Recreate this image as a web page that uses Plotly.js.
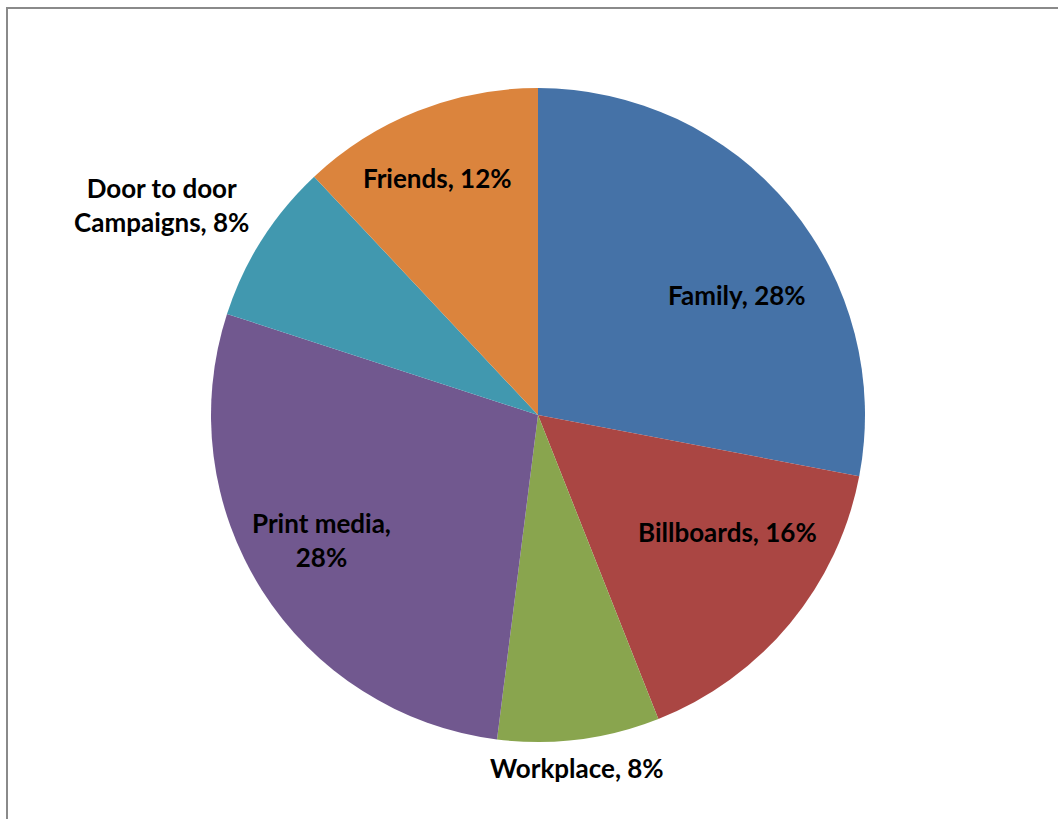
<!DOCTYPE html>
<html>
<head>
<meta charset="utf-8">
<script src="https://cdn.plot.ly/plotly-3.0.1.min.js"></script>
<style>
  html, body { margin: 0; padding: 0; background: #fff; }
  #frame { position: absolute; left: 6px; top: 7px; width: 1200px; height: 1000px;
           border-top: 2px solid #8a8a8a; border-left: 2px solid #8a8a8a; }
  #chart { position: absolute; left: 0; top: 0; width: 1058px; height: 819px; }
</style>
</head>
<body>
<div id="frame"></div>
<div id="chart"></div>
<script>
const labels = ['Family', 'Billboards', 'Workplace', 'Print media', 'Door to door Campaigns', 'Friends'];
const values = [28, 16, 8, 28, 8, 12];
const colors = ['#4572A7', '#AA4643', '#89A54E', '#71588F', '#4198AF', '#DB843D'];
const labelTexts = ['Family, 28%', 'Billboards, 16%', 'Workplace, 8%', 'Print media,<br>28%',
                    'Door to door<br>Campaigns, 8%', 'Friends, 12%'];
// label placement styling: distance from centre (fraction of radius) and angular nudge (degrees)
const labelRadius = [0.71, 0.68, 1.086, 0.765, 1.318, 0.786];
const labelAngleShift = [8.6, -8, 0.9, 2.4, -3.2, -1.4];

const trace = {
  type: 'pie',
  labels: labels,
  values: values,
  sort: false,
  direction: 'clockwise',
  rotation: 0,
  marker: { colors: colors, line: { width: 0 } },
  textinfo: 'none',
  hoverinfo: 'label+percent',
  showlegend: false
};

const total = values.reduce((a, b) => a + b, 0);
const annotations = [];
let cum = 0;
values.forEach((v, i) => {
  const mid = (cum + v / 2) / total * 2 * Math.PI + labelAngleShift[i] * Math.PI / 180;
  cum += v;
  const r = 0.5 * labelRadius[i];
  annotations.push({
    xref: 'paper', yref: 'paper',
    x: 0.5 + r * Math.sin(mid),
    y: 0.5 + r * Math.cos(mid),
    xanchor: 'center', yanchor: 'middle',
    text: labelTexts[i],
    showarrow: false,
    align: 'center',
    font: { family: 'Lato', size: 26, color: '#000', weight: 700 }
  });
});

const layout = {
  width: 1058, height: 819,
  margin: { l: 211, r: 193, t: 88, b: 77 },
  paper_bgcolor: 'rgba(0,0,0,0)',
  plot_bgcolor: 'rgba(0,0,0,0)',
  showlegend: false,
  annotations: annotations
};

Plotly.newPlot('chart', [trace], layout, { displayModeBar: false, staticPlot: true });
</script>
</body>
</html>
